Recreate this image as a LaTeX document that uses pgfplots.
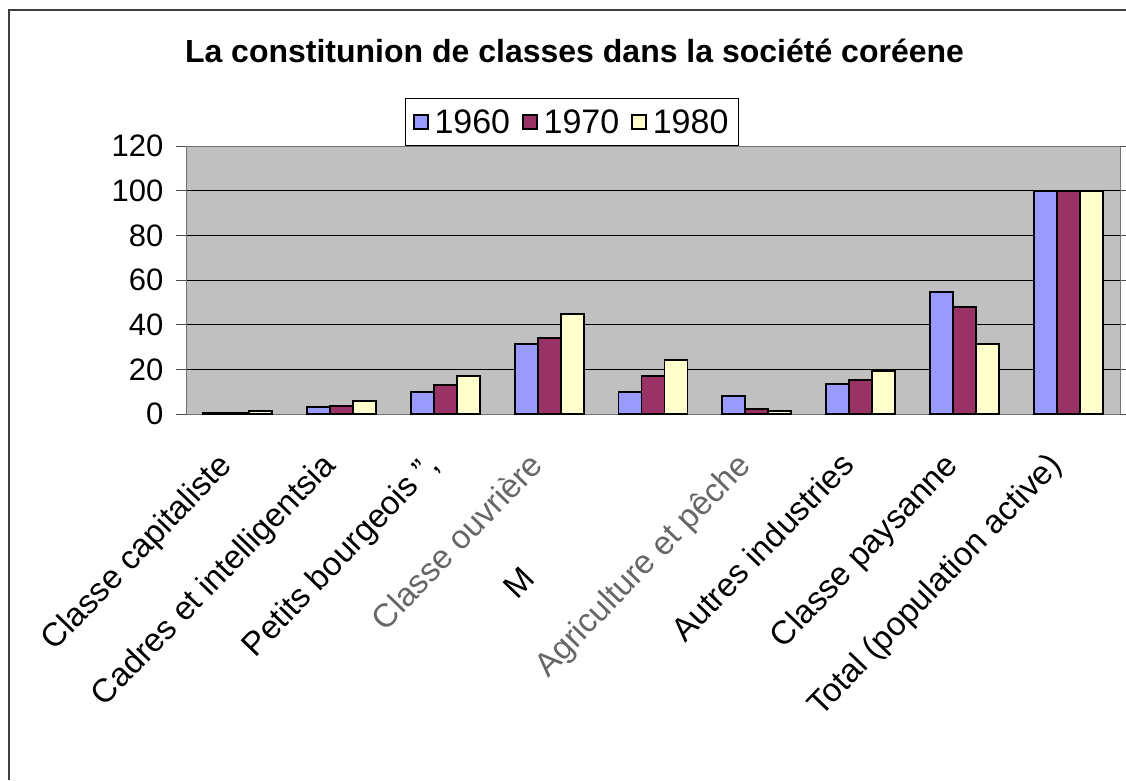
\documentclass[border=0pt]{standalone}
\usepackage{fontspec}
\setmainfont{Liberation Sans}
\usepackage{pgfplots}
\pgfplotsset{compat=1.18}
\definecolor{cA}{HTML}{9999FF}
\definecolor{cB}{HTML}{993366}
\definecolor{cC}{HTML}{FFFFCC}
\definecolor{bg}{HTML}{C0C0C0}
\begin{document}
\begin{tikzpicture}[x=1pt,y=1pt]
\useasboundingbox (0,0) rectangle (1126,780);
\draw[black!75, line width=1.5pt] (9,0) -- (9,770) -- (1126,770);
\node[anchor=base, font=\bfseries\fontsize{32}{38}\selectfont] at (574.5,717) {La constitunion de classes dans la société coréene};
\begin{axis}[
  at={(186pt,366pt)}, anchor=south west,
  scale only axis, width=934pt, height=268pt,
  xmin=-0.5, xmax=8.5, ymin=0, ymax=120,
  ytick={0,20,...,120},
  xtick={0,...,8},
  xticklabels={Classe capitaliste, Cadres et intelligentsia, {Petits bourgeois \symbol{34},}, \textcolor{black!60}{Classe ouvrière}, M\rule{160pt}{0pt}, \textcolor{black!60}{Agriculture et pêche}, Autres industries, Classe paysanne, Total (population active)},
  minor xtick={-0.5,0.5,...,8.5},
  xtick style={draw=none},
  minor tick length=8pt,
  major tick length=10pt,
  tick align=outside,
  tick style={black!70, line width=1pt},
  ymajorgrids, grid style={black, line width=0.9pt},
  axis line style={black!55, line width=1pt},
  axis background/.style={fill=bg},
  ybar=0pt, bar width=23pt,
  /pgf/number format/assume math mode=true,
  yticklabel style={font=\fontsize{31}{36}\selectfont, xshift=-9pt},
  xticklabel style={font=\fontsize{33}{38}\selectfont, inner sep=0pt, xshift=-22pt, yshift=-26pt, rotate=46, anchor=north east},
  legend style={at={(0.413,1)}, anchor=south, legend columns=3, draw=black, line width=1pt, fill=white,
    font=\fontsize{34}{40}\selectfont, inner xsep=8pt, inner ysep=9pt,
    /tikz/every odd column/.style={column sep=4pt},
    /tikz/every even column/.style={column sep=10pt}},
  legend image code/.code={\draw[#1, line width=1.5pt] (0pt,-7pt) rectangle (14pt,7pt);},
  clip=false,
]
\addplot[fill=cA, draw=black, line width=1.8pt] coordinates {(0,0.4) (1,3.0) (2,9.7) (3,31.3) (4,9.7) (5,8.0) (6,13.6) (7,54.5) (8,100)};
\addplot[fill=cB, draw=black, line width=1.8pt] coordinates {(0,0.6) (1,3.7) (2,13.1) (3,34.1) (4,16.9) (5,2.4) (6,15.3) (7,48.0) (8,100)};
\addplot[fill=cC, draw=black, line width=1.8pt] coordinates {(0,1.3) (1,5.7) (2,16.9) (3,44.6) (4,24.2) (5,1.5) (6,19.4) (7,31.5) (8,100)};
\legend{1960,1970,1980}
\end{axis}
\end{tikzpicture}
\end{document}
